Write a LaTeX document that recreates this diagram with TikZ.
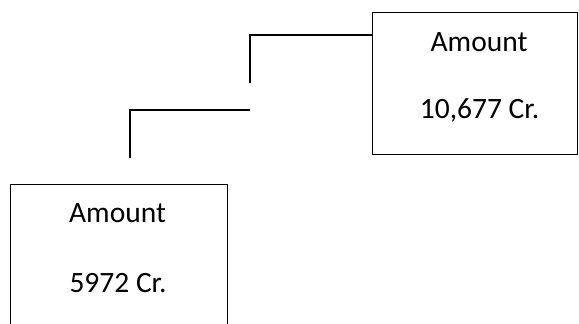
\documentclass[tikz,border=0pt]{standalone}
\usepackage{fontspec}
\setmainfont{Carlito}
\begin{document}
\begin{tikzpicture}[x=1pt,y=-1pt,line width=1.4pt,
 amtbox/.style={draw,anchor=north west,inner sep=0pt},
 amttext/.style={anchor=base,font=\fontsize{29.5}{35}\selectfont}]
 \useasboundingbox (0,0) rectangle (579,324);
 \node[amtbox,minimum width=205pt,minimum height=142pt] (topbox) at (372,12) {};
 \node[amtbox,minimum width=217pt,minimum height=170pt] (lowbox) at (10,184) {};
 \node[amttext] (toplabel) at (479,51) {Amount};
 \node[amttext] (topvalue) at (479.5,118) {10,677 Cr.};
 \node[amttext] (lowlabel) at (117.5,222) {Amount};
 \node[amttext] (lowvalue) at (118,292) {5972 Cr.};
 \coordinate (topjoin) at (372,35);
 \coordinate (upend) at (250,83);
 \coordinate (midstart) at (250,110);
 \coordinate (lowend) at (130,158);
 \draw (topjoin) -| (upend);
 \draw (midstart) -| (lowend);
\end{tikzpicture}
\end{document}
